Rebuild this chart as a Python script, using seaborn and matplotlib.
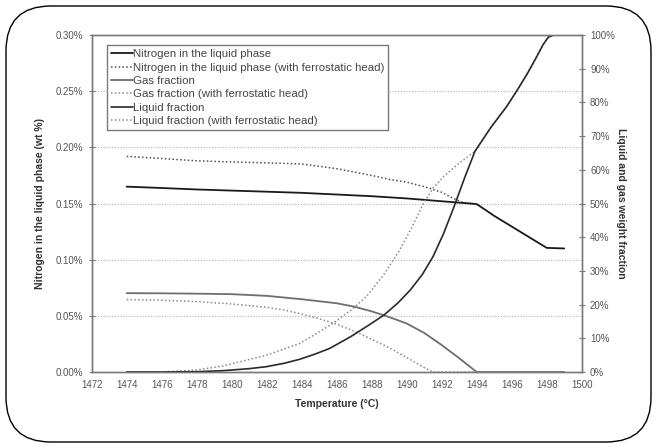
import matplotlib
matplotlib.use("Agg")
import matplotlib.pyplot as plt
from matplotlib.patches import FancyBboxPatch
from matplotlib.ticker import FuncFormatter
import pandas as pd
import seaborn as sns

# nitrogen in liquid (wt %), left axis
n_temp = [1474, 1476, 1478, 1480, 1482, 1484, 1486, 1488, 1490, 1492, 1494, 1495, 1496, 1497, 1498, 1499]
n_val = [0.165, 0.1638, 0.1625, 0.1615, 0.1605, 0.1595, 0.158, 0.1565, 0.1545, 0.152, 0.1495, 0.139, 0.1295, 0.12, 0.1105, 0.110]

nf_temp = [1474, 1476, 1478, 1480, 1482, 1484, 1486, 1488, 1489, 1490, 1491, 1492, 1492.6, 1493.2, 1494]
nf_val = [0.192, 0.190, 0.188, 0.187, 0.1862, 0.1852, 0.181, 0.175, 0.1715, 0.169, 0.165, 0.160, 0.155, 0.151, 0.1495]

# fractions (%), right axis
gas_temp = [1474, 1476, 1478, 1480, 1482, 1484, 1485, 1486, 1487, 1488, 1489, 1490, 1491, 1492, 1493, 1494, 1496, 1499]
gas_val = [23.4, 23.35, 23.25, 23.1, 22.6, 21.6, 21.0, 20.4, 19.4, 18.0, 16.3, 14.4, 11.6, 8.0, 4.1, 0.0, 0.0, 0.0]

gasf_temp = [1474, 1476, 1478, 1480, 1482, 1483, 1484, 1485, 1486, 1487, 1488, 1489, 1490, 1491, 1491.5, 1494]
gasf_val = [21.5, 21.3, 20.9, 20.2, 19.2, 18.4, 17.2, 15.8, 14.2, 12.1, 9.7, 7.2, 4.3, 1.3, 0.0, 0.0]

liq_temp = [1474, 1476, 1478, 1479.5, 1481, 1482, 1483, 1483.9, 1484.8, 1485.6, 1486.8, 1487.8, 1488.7,
            1489.5, 1490.2, 1490.9, 1491.5, 1492.1, 1492.7, 1493.3, 1493.9, 1494.8, 1495.7, 1496.3,
            1496.9, 1497.4, 1497.8, 1498.1, 1498.4, 1499]
liq_val = [0.0, 0.0, 0.1, 0.4, 1.0, 1.6, 2.6, 3.8, 5.4, 7.0, 10.5, 13.8, 16.9,
           20.5, 24.3, 29.0, 34.2, 41.0, 49.0, 57.5, 65.5, 72.5, 78.7, 83.5,
           88.6, 93.3, 97.2, 99.4, 100.0, 100.0]

liqf_temp = [1474, 1476, 1478, 1479.5, 1480.9, 1482, 1482.8, 1483.9, 1484.8, 1485.8, 1486.8, 1487.7,
             1488.7, 1489.6, 1490.3, 1490.95, 1491.5, 1492.1, 1493, 1493.9, 1494.8, 1495.7, 1496.3,
             1496.9, 1497.4, 1497.8, 1498.1, 1498.4, 1499]
liqf_val = [0.0, 0.0, 0.6, 1.8, 3.6, 5.0, 6.5, 8.5, 11.3, 14.5, 18.3, 22.4,
            29.0, 36.2, 43.0, 50.0, 54.5, 58.0, 62.0, 65.5, 72.5, 78.7, 83.5,
            88.6, 93.3, 97.2, 99.4, 100.0, 100.0]

x_ticks = list(range(1472, 1501, 2))

labels = ["Nitrogen in the liquid phase",
          "Nitrogen in the liquid phase (with ferrostatic head)",
          "Gas fraction",
          "Gas fraction (with ferrostatic head)",
          "Liquid fraction",
          "Liquid fraction (with ferrostatic head)"]

sns.set_style("white")
plt.rcParams['font.family'] = ['Liberation Sans', 'DejaVu Sans']

fig = plt.figure(figsize=(6.57, 4.48), dpi=100)
ax = fig.add_axes([0.1396, 0.1696, 0.7458, 0.7523])
ax2 = ax.twinx()

n_df = pd.DataFrame({"T": n_temp, "v": n_val})
nf_df = pd.DataFrame({"T": nf_temp, "v": nf_val})
gas_df = pd.DataFrame({"T": gas_temp, "v": gas_val})
gasf_df = pd.DataFrame({"T": gasf_temp, "v": gasf_val})
liq_df = pd.DataFrame({"T": liq_temp, "v": liq_val})
liqf_df = pd.DataFrame({"T": liqf_temp, "v": liqf_val})

dot = (0, (1, 1.5))
sns.lineplot(data=liqf_df, x="T", y="v", ax=ax2, color="#8a8a8a", linestyle=dot, linewidth=1.1, label=labels[5])
sns.lineplot(data=gasf_df, x="T", y="v", ax=ax2, color="#8a8a8a", linestyle=dot, linewidth=1.1, label=labels[3])
sns.lineplot(data=gas_df, x="T", y="v", ax=ax2, color="#6e6e6e", linewidth=1.3, label=labels[2])
sns.lineplot(data=liq_df, x="T", y="v", ax=ax2, color="#2a2a2a", linewidth=1.2, label=labels[4])
sns.lineplot(data=nf_df, x="T", y="v", ax=ax, color="#505050", linestyle=dot, linewidth=1.1, label=labels[1])
sns.lineplot(data=n_df, x="T", y="v", ax=ax, color="#1a1a1a", linewidth=1.3, label=labels[0])

ax.set_xlim(1472, 1500)
ax.set_ylim(0, 0.30)
ax2.set_ylim(0, 100)
ax.set_xticks(x_ticks)
ax.set_yticks([0, 0.05, 0.10, 0.15, 0.20, 0.25, 0.30])
ax2.set_yticks(range(0, 101, 10))
ax.yaxis.set_major_formatter(FuncFormatter(lambda v, p: "%.2f%%" % v))
ax2.yaxis.set_major_formatter(FuncFormatter(lambda v, p: "%d%%" % v))

for g in [0.05, 0.10, 0.15, 0.20, 0.25]:
    ax.axhline(g, color="#b0b0b0", linestyle=dot, linewidth=0.8, zorder=0)

for a in (ax, ax2):
    for s in a.spines.values():
        s.set_color("#7a7a7a")
        s.set_linewidth(1.0)
    a.tick_params(direction="inout", length=5, width=0.8, colors="#7a7a7a", labelcolor="#555555", labelsize=7)

ax.set_xlabel("Temperature (°C)", fontsize=7.5, fontweight="bold", color="#333333", labelpad=6)
ax.set_ylabel("Nitrogen in the liquid phase (wt %)", fontsize=7.5, fontweight="bold", color="#333333", labelpad=8)
ax2.set_ylabel("Liquid and gas weight fraction", fontsize=7.5, fontweight="bold", color="#333333", rotation=270, labelpad=8)

h1, l1 = ax.get_legend_handles_labels()
h2, l2 = ax2.get_legend_handles_labels()
hd = dict(zip(l1 + l2, h1 + h2))
if ax2.get_legend():
    ax2.get_legend().remove()
if ax.get_legend():
    ax.get_legend().remove()
leg = ax.legend([hd[l] for l in labels], labels, loc="upper left", bbox_to_anchor=(0.031, 0.970),
                borderaxespad=0, fancybox=False, framealpha=1, edgecolor="#7a7a7a", fontsize=8.2,
                handlelength=1.9, handletextpad=0.0, labelspacing=0.3, borderpad=0.35)
for t in leg.get_texts():
    t.set_color("#444444")
leg.get_frame().set_linewidth(1.0)
leg.set_zorder(10)

frame = FancyBboxPatch((0.06, 0.06), 6.45, 4.36, boxstyle="round,pad=0,rounding_size=0.45",
                       transform=fig.dpi_scale_trans, facecolor="none", edgecolor="black", linewidth=1.0)
fig.patches.append(frame)

fig.savefig("out.png", dpi=100)
